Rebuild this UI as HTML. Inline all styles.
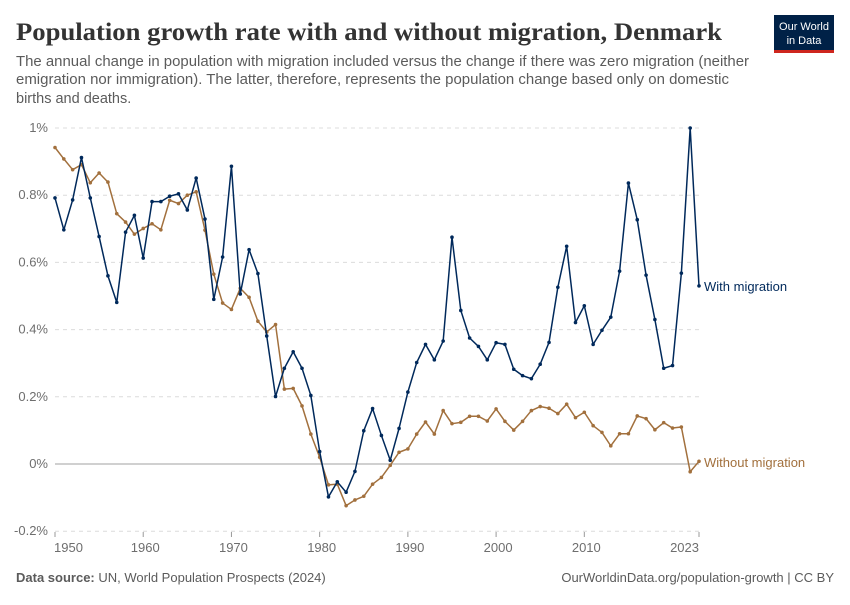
<!DOCTYPE html>
<html><head><meta charset="utf-8"><style>
body{margin:0;background:#fff;}
svg text{font-family:"Liberation Sans",sans-serif;}
</style></head><body>
<svg id="chart" width="850" height="600" xmlns="http://www.w3.org/2000/svg">
<text x="16" y="40" style="font-family:'Liberation Serif',serif" font-size="25" font-weight="bold" fill="#333" textLength="706" lengthAdjust="spacingAndGlyphs">Population growth rate with and without migration, Denmark</text>
<g font-size="14.5" fill="#5b5b5b">
<text x="16" y="66" textLength="733" lengthAdjust="spacingAndGlyphs">The annual change in population with migration included versus the change if there was zero migration (neither</text>
<text x="16" y="84" textLength="713" lengthAdjust="spacingAndGlyphs">emigration nor immigration). The latter, therefore, represents the population change based only on domestic</text>
<text x="16" y="103">births and deaths.</text>
</g>
<g>
<rect x="774" y="15" width="60" height="35" fill="#002147"/>
<rect x="774" y="50" width="60" height="3" fill="#ce261e"/>
<text x="804" y="30" font-size="11" fill="#fff" text-anchor="middle">Our World</text>
<text x="804" y="44" font-size="11" fill="#fff" text-anchor="middle">in Data</text>
</g>
<g id="grid"></g>
<g id="series"></g>
<text x="16" y="582" font-size="13" fill="#5b5b5b"><tspan font-weight="bold">Data source:</tspan> UN, World Population Prospects (2024)</text>
<text x="834" y="582" font-size="13" fill="#5b5b5b" text-anchor="end">OurWorldinData.org/population-growth | CC BY</text>
</svg>
<script>
const years=[];for(let y=1950;y<=2023;y++)years.push(y);
const withMigration=[0.792,0.697,0.786,0.912,0.792,0.677,0.560,0.481,0.690,0.740,0.613,0.781,0.781,0.797,0.804,0.756,0.851,0.729,0.490,0.616,0.886,0.506,0.638,0.567,0.381,0.201,0.285,0.334,0.285,0.204,0.037,-0.098,-0.053,-0.084,-0.022,0.099,0.165,0.085,0.011,0.106,0.214,0.302,0.356,0.310,0.366,0.675,0.457,0.375,0.350,0.310,0.361,0.356,0.282,0.263,0.254,0.297,0.362,0.526,0.648,0.421,0.471,0.356,0.398,0.437,0.574,0.836,0.727,0.562,0.430,0.285,0.293,0.568,1.0,0.530];
const withoutMigration=[0.942,0.908,0.876,0.891,0.837,0.866,0.839,0.745,0.720,0.684,0.701,0.715,0.697,0.785,0.775,0.800,0.810,0.696,0.565,0.479,0.460,0.523,0.496,0.425,0.393,0.415,0.223,0.225,0.173,0.089,0.020,-0.062,-0.060,-0.124,-0.107,-0.096,-0.060,-0.040,-0.004,0.035,0.045,0.089,0.125,0.089,0.159,0.120,0.124,0.142,0.142,0.128,0.164,0.127,0.101,0.127,0.159,0.171,0.166,0.150,0.178,0.138,0.154,0.114,0.094,0.054,0.090,0.090,0.143,0.135,0.102,0.123,0.107,0.110,-0.023,0.008];
const yTicks=[-0.2,0,0.2,0.4,0.6,0.8,1];
const yTickLabels=["-0.2%","0%","0.2%","0.4%","0.6%","0.8%","1%"];
const xTicks=[1950,1960,1970,1980,1990,2000,2010,2023];
const NS="http://www.w3.org/2000/svg";
const x0=55,x1=699,y0=464,pxPer=336;
const xs=yr=>x0+(yr-1950)*(x1-x0)/(2023-1950);
const ys=v=>y0-v*pxPer;
function mk(tag,attrs,parent){const e=document.createElementNS(NS,tag);for(const k in attrs)e.setAttribute(k,attrs[k]);parent.appendChild(e);return e;}
const grid=document.getElementById('grid');
yTicks.forEach((v,i)=>{
  const l=mk('line',{x1:x0,x2:x1,y1:ys(v),y2:ys(v),stroke:v===0?'#b5b5b5':'#dcdcdc','stroke-width':v===0?1.3:1,'stroke-dasharray':v===0?'none':'4,4'},grid);
  
  
  const t=mk('text',{x:48,y:ys(v)+4,'font-size':13,fill:'#6e6e6e','text-anchor':'end'},grid);
  t.textContent=yTickLabels[i];
  
  
});
xTicks.forEach((yr,i)=>{
  const l=mk('line',{x1:xs(yr),x2:xs(yr),y1:532,y2:537,stroke:'#999'},grid);
  
  
  const anchor=i===0?'start':(i===xTicks.length-1?'end':'middle');
  const t=mk('text',{x:xs(yr)+(i===0?-1:(i===xTicks.length-1?0:2)),y:552,'font-size':13,fill:'#6e6e6e','text-anchor':anchor},grid);
  t.textContent=yr;
  
  
});
const series=document.getElementById('series');
function draw(vals,color,name,label,ly){
  const g=mk('g',{},series);
  
  
  const p=mk('polyline',{points:vals.map((v,i)=>xs(years[i])+','+ys(v)).join(' '),fill:'none',stroke:color,'stroke-width':1.5,'stroke-linejoin':'round'},g);
  
  
  vals.forEach((v,i)=>{
    const c=mk('circle',{cx:xs(years[i]),cy:ys(v),r:1.8,fill:color},g);
    
    
  });
  const t=mk('text',{x:xs(2023)+5,y:ly,'font-size':13,fill:color},g);
  t.textContent=label;
  
  
}
draw(withoutMigration,'#a2703d','without-migration','Without migration',467);
draw(withMigration,'#00295b','with-migration','With migration',291);
</script>
</body></html>
